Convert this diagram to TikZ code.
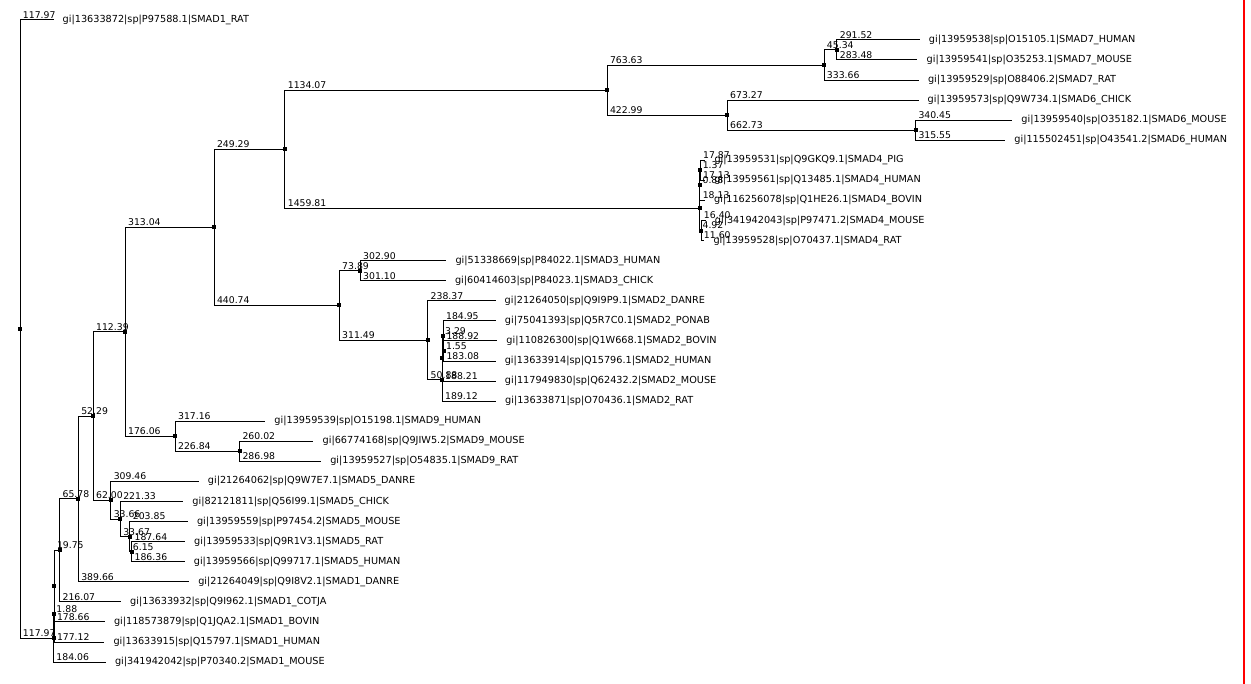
\documentclass[tikz,border=0pt]{standalone}
\usepackage{fontspec}
\setmainfont{DejaVu Sans}
% horizontal position from the summed branch length below the root
\newcommand{\bx}[1]{20+0.2841*(#1)}
% one elbow connector from a parent to a child, with its length written above
\newcommand{\twig}[3]{\draw[edge] (#1.center) |- node[blen]{#3} (#2.center);}
\begin{document}
\begin{tikzpicture}[x=1pt, y=-1pt,
  edge/.style={draw=black, line width=0.9pt},
  blen/.style={pos=0.5, anchor=south west, inner sep=0pt, xshift=2.5pt, yshift=1pt,
    font=\fontsize{9.3}{10}\selectfont},
  knot/.style={rectangle, fill=black, inner sep=0pt, minimum size=4pt},
  taxon/.style={anchor=west, inner sep=0pt, xshift=9pt, font=\fontsize{9.7}{11}\selectfont}
]
\useasboundingbox (0,0) rectangle (1251,684);

% internal nodes
\node[knot] (root)  at (20,328.9) {};
\node[knot] (nX)    at ({\bx{117.97}},638.0) {};
\node[knot] (nV)    at ({\bx{119.85}},614.0) {};
\node[knot] (nW)    at ({\bx{119.85}},586.1) {};
\node[knot] (n19)   at ({\bx{139.60}},550.35) {};
\node[knot] (n65)   at ({\bx{205.38}},498.87) {};
\node[knot] (n52)   at ({\bx{257.67}},415.98) {};
\node[knot] (n112)  at ({\bx{370.06}},331.75) {};
\node[knot] (n313)  at ({\bx{683.10}},227.25) {};
\node[knot] (n249)  at ({\bx{932.39}},149.0) {};
\node[knot] (n1134) at ({\bx{2066.46}},90.05) {};
\node[knot] (n763)  at ({\bx{2830.09}},64.96) {};
\node[knot] (n45)   at ({\bx{2875.43}},49.9) {};
\node[knot] (n422)  at ({\bx{2489.45}},115.13) {};
\node[knot] (n662)  at ({\bx{3152.18}},130.19) {};
\node[knot] (n1459) at ({\bx{2392.20}},207.96) {};
\node[knot] (nB)    at ({\bx{2393.00}},185.38) {};
\node[knot] (nA)    at ({\bx{2394.37}},170.33) {};
\node[knot] (nE)    at ({\bx{2397.12}},230.54) {};
\node[knot] (n440)  at ({\bx{1123.84}},305.5) {};
\node[knot] (n73)   at ({\bx{1197.73}},270.68) {};
\node[knot] (n311)  at ({\bx{1435.33}},340.3) {};
\node[knot] (n50)   at ({\bx{1486.21}},379.8) {};
\node[knot] (nL)    at ({\bx{1486.21}},358.48) {};
\node[knot] (nK)    at ({\bx{1489.50}},335.9) {};
\node[knot] (nJ)    at ({\bx{1491.05}},350.96) {};
\node[knot] (n176)  at ({\bx{546.12}},436.25) {};
\node[knot] (n226)  at ({\bx{772.96}},451.3) {};
\node[knot] (n62)   at ({\bx{319.67}},500.2) {};
\node[knot] (n33)   at ({\bx{353.33}},519.04) {};
\node[knot] (n33b)  at ({\bx{387.00}},536.6) {};
\node[knot] (nP)    at ({\bx{393.15}},551.66) {};

% leaf tips
\coordinate (t0)  at ({\bx{117.97}},19.8);
\coordinate (t1)  at ({\bx{3166.95}},39.87);
\coordinate (t2)  at ({\bx{3158.91}},59.94);
\coordinate (t3)  at ({\bx{3163.75}},80.01);
\coordinate (t4)  at ({\bx{3162.72}},100.08);
\coordinate (t5)  at ({\bx{3492.63}},120.15);
\coordinate (t6)  at ({\bx{3467.73}},140.22);
\coordinate (t7)  at ({\bx{2412.24}},160.29);
\coordinate (t8)  at ({\bx{2411.50}},180.36);
\coordinate (t9)  at ({\bx{2411.13}},200.43);
\coordinate (t10) at ({\bx{2413.52}},220.5);
\coordinate (t11) at ({\bx{2408.72}},240.57);
\coordinate (t12) at ({\bx{1500.63}},260.64);
\coordinate (t13) at ({\bx{1498.83}},280.71);
\coordinate (t14) at ({\bx{1673.70}},300.78);
\coordinate (t15) at ({\bx{1674.45}},320.85);
\coordinate (t16) at ({\bx{1679.97}},340.92);
\coordinate (t17) at ({\bx{1674.13}},360.99);
\coordinate (t18) at ({\bx{1674.42}},381.06);
\coordinate (t19) at ({\bx{1675.33}},401.13);
\coordinate (t20) at ({\bx{863.28}},421.2);
\coordinate (t21) at ({\bx{1032.98}},441.27);
\coordinate (t22) at ({\bx{1059.94}},461.34);
\coordinate (t23) at ({\bx{629.13}},481.41);
\coordinate (t24) at ({\bx{574.66}},501.48);
\coordinate (t25) at ({\bx{590.85}},521.55);
\coordinate (t26) at ({\bx{580.79}},541.62);
\coordinate (t27) at ({\bx{579.51}},561.69);
\coordinate (t28) at ({\bx{595.04}},581.76);
\coordinate (t29) at ({\bx{355.67}},601.83);
\coordinate (t30) at ({\bx{298.51}},621.9);
\coordinate (t31) at ({\bx{296.97}},641.97);
\coordinate (t32) at ({\bx{302.03}},662.04);

% connectors
\twig{root}{t0}{117.97}
\twig{root}{nX}{117.97}
\twig{nX}{nV}{1.88}
\twig{nX}{t32}{184.06}
\twig{nV}{nW}{}
\twig{nV}{t31}{177.12}
\twig{nW}{n19}{19.75}
\twig{nW}{t30}{178.66}
\twig{n19}{n65}{65.78}
\twig{n19}{t29}{216.07}
\twig{n65}{n52}{52.29}
\twig{n65}{t28}{389.66}
\twig{n52}{n112}{112.39}
\twig{n52}{n62}{62.00}
\twig{n112}{n313}{313.04}
\twig{n112}{n176}{176.06}
\twig{n313}{n249}{249.29}
\twig{n313}{n440}{440.74}
\twig{n249}{n1134}{1134.07}
\twig{n249}{n1459}{1459.81}
\twig{n1134}{n763}{763.63}
\twig{n1134}{n422}{422.99}
\twig{n763}{n45}{45.34}
\twig{n763}{t3}{333.66}
\twig{n45}{t1}{291.52}
\twig{n45}{t2}{283.48}
\twig{n422}{t4}{673.27}
\twig{n422}{n662}{662.73}
\twig{n662}{t5}{340.45}
\twig{n662}{t6}{315.55}
\twig{n1459}{nB}{0.88}
\twig{n1459}{nE}{4.92}
\twig{nB}{nA}{1.37}
\twig{nB}{t9}{18.13}
\twig{nA}{t7}{17.87}
\twig{nA}{t8}{17.13}
\twig{nE}{t10}{16.40}
\twig{nE}{t11}{11.60}
\twig{n440}{n73}{73.89}
\twig{n440}{n311}{311.49}
\twig{n73}{t12}{302.90}
\twig{n73}{t13}{301.10}
\twig{n311}{t14}{238.37}
\twig{n311}{n50}{50.88}
\twig{n50}{nL}{}
\twig{n50}{t19}{189.12}
\twig{nL}{nK}{3.29}
\twig{nL}{t18}{188.21}
\twig{nK}{t15}{184.95}
\twig{nK}{nJ}{1.55}
\twig{nJ}{t16}{188.92}
\twig{nJ}{t17}{183.08}
\twig{n176}{t20}{317.16}
\twig{n176}{n226}{226.84}
\twig{n226}{t21}{260.02}
\twig{n226}{t22}{286.98}
\twig{n62}{t23}{309.46}
\twig{n62}{n33}{33.66}
\twig{n33}{t24}{221.33}
\twig{n33}{n33b}{33.67}
\twig{n33b}{t25}{203.85}
\twig{n33b}{nP}{6.15}
\twig{nP}{t26}{187.64}
\twig{nP}{t27}{186.36}

% taxon names
\node[taxon] (s0)  at (t0)  {gi|13633872|sp|P97588.1|SMAD1\_RAT};
\node[taxon] (s1)  at (t1)  {gi|13959538|sp|O15105.1|SMAD7\_HUMAN};
\node[taxon] (s2)  at (t2)  {gi|13959541|sp|O35253.1|SMAD7\_MOUSE};
\node[taxon] (s3)  at (t3)  {gi|13959529|sp|O88406.2|SMAD7\_RAT};
\node[taxon] (s4)  at (t4)  {gi|13959573|sp|Q9W734.1|SMAD6\_CHICK};
\node[taxon] (s5)  at (t5)  {gi|13959540|sp|O35182.1|SMAD6\_MOUSE};
\node[taxon] (s6)  at (t6)  {gi|115502451|sp|O43541.2|SMAD6\_HUMAN};
\node[taxon] (s7)  at (t7)  {gi|13959531|sp|Q9GKQ9.1|SMAD4\_PIG};
\node[taxon] (s8)  at (t8)  {gi|13959561|sp|Q13485.1|SMAD4\_HUMAN};
\node[taxon] (s9)  at (t9)  {gi|116256078|sp|Q1HE26.1|SMAD4\_BOVIN};
\node[taxon] (s10) at (t10) {gi|341942043|sp|P97471.2|SMAD4\_MOUSE};
\node[taxon] (s11) at (t11) {gi|13959528|sp|O70437.1|SMAD4\_RAT};
\node[taxon] (s12) at (t12) {gi|51338669|sp|P84022.1|SMAD3\_HUMAN};
\node[taxon] (s13) at (t13) {gi|60414603|sp|P84023.1|SMAD3\_CHICK};
\node[taxon] (s14) at (t14) {gi|21264050|sp|Q9I9P9.1|SMAD2\_DANRE};
\node[taxon] (s15) at (t15) {gi|75041393|sp|Q5R7C0.1|SMAD2\_PONAB};
\node[taxon] (s16) at (t16) {gi|110826300|sp|Q1W668.1|SMAD2\_BOVIN};
\node[taxon] (s17) at (t17) {gi|13633914|sp|Q15796.1|SMAD2\_HUMAN};
\node[taxon] (s18) at (t18) {gi|117949830|sp|Q62432.2|SMAD2\_MOUSE};
\node[taxon] (s19) at (t19) {gi|13633871|sp|O70436.1|SMAD2\_RAT};
\node[taxon] (s20) at (t20) {gi|13959539|sp|O15198.1|SMAD9\_HUMAN};
\node[taxon] (s21) at (t21) {gi|66774168|sp|Q9JIW5.2|SMAD9\_MOUSE};
\node[taxon] (s22) at (t22) {gi|13959527|sp|O54835.1|SMAD9\_RAT};
\node[taxon] (s23) at (t23) {gi|21264062|sp|Q9W7E7.1|SMAD5\_DANRE};
\node[taxon] (s24) at (t24) {gi|82121811|sp|Q56I99.1|SMAD5\_CHICK};
\node[taxon] (s25) at (t25) {gi|13959559|sp|P97454.2|SMAD5\_MOUSE};
\node[taxon] (s26) at (t26) {gi|13959533|sp|Q9R1V3.1|SMAD5\_RAT};
\node[taxon] (s27) at (t27) {gi|13959566|sp|Q99717.1|SMAD5\_HUMAN};
\node[taxon] (s28) at (t28) {gi|21264049|sp|Q9I8V2.1|SMAD1\_DANRE};
\node[taxon] (s29) at (t29) {gi|13633932|sp|Q9I962.1|SMAD1\_COTJA};
\node[taxon] (s30) at (t30) {gi|118573879|sp|Q1JQA2.1|SMAD1\_BOVIN};
\node[taxon] (s31) at (t31) {gi|13633915|sp|Q15797.1|SMAD1\_HUMAN};
\node[taxon] (s32) at (t32) {gi|341942042|sp|P70340.2|SMAD1\_MOUSE};

% red margin rule on the right
\coordinate (rt) at (1244,0);
\coordinate (rb) at (1244,684);
\draw[red, line width=1.2pt] (rt) -- (rb);
\end{tikzpicture}
\end{document}
